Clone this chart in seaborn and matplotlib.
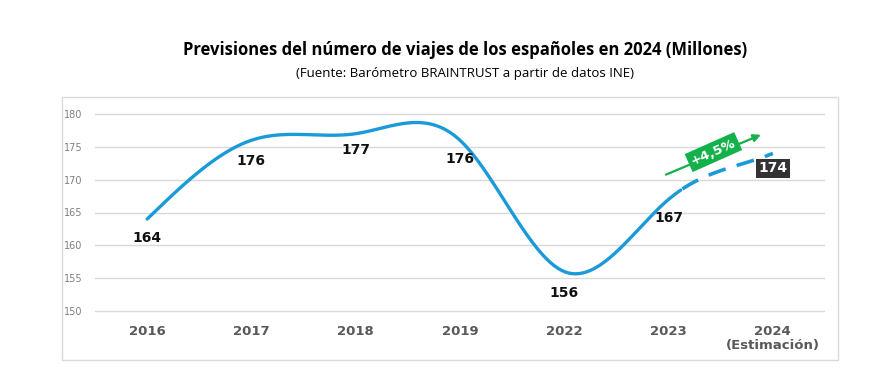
import numpy as np
import pandas as pd
import matplotlib
matplotlib.use("Agg")
import matplotlib.pyplot as plt
from matplotlib.patches import Rectangle
import seaborn as sns

years = ["2016", "2017", "2018", "2019", "2022", "2023", "2024\n(Estimación)"]
viajes = [164, 176, 177, 176, 156, 167, 174]
etiquetas = ["164", "176", "177", "176", "156", "167", "174"]
crecimiento = "+4,5%"
titulo = "Previsiones del número de viajes de los españoles en 2024 (Millones)"
fuente = "(Fuente: Barómetro BRAINTRUST a partir de datos INE)"

W, H = 883, 378


def spline(y, end_slope, n=60):
    # cubic spline on x = 0..len-1, natural at the left, clamped at the right
    y = np.asarray(y, float)
    m = len(y)
    A = np.zeros((m, m))
    b = np.zeros(m)
    A[0, 0] = 1
    for i in range(1, m - 1):
        A[i, i - 1], A[i, i], A[i, i + 1] = 1, 4, 1
        b[i] = 6 * (y[i + 1] - 2 * y[i] + y[i - 1])
    A[-1, -2], A[-1, -1] = 1, 2
    b[-1] = 6 * (end_slope - (y[-1] - y[-2]))
    M = np.linalg.solve(A, b)
    xs, ys = [], []
    for i in range(m - 1):
        t = np.linspace(0, 1, n, endpoint=False)
        yi = ((1 - t) * y[i] + t * y[i + 1]
              + ((1 - t) ** 3 - (1 - t)) * M[i] / 6
              + (t ** 3 - t) * M[i + 1] / 6)
        xs.append(i + t)
        ys.append(yi)
    xs.append([m - 1])
    ys.append([y[-1]])
    return np.concatenate(xs), np.concatenate(ys)


sns.set_theme(style="white")
plt.rcParams['font.family'] = ['DejaVu Sans']

fig = plt.figure(figsize=(W / 100, H / 100), dpi=100)
# y range 149.5..180.5 -> 6.567 px per unit
ax = fig.add_axes([95 / W, 1 - 314.3 / H, 730 / W, 203.6 / H])

xs, ys = spline(viajes, end_slope=6.5)
curva = pd.DataFrame({"x": xs, "y": ys})
corte = 5.12
color = "#1b9ad8"
sns.lineplot(data=curva[curva.x <= corte], x="x", y="y", ax=ax,
             color=color, lw=2.4, solid_capstyle="round")
sns.lineplot(data=curva[curva.x >= corte], x="x", y="y", ax=ax,
             color=color, lw=2.6, dashes=(5, 3.2))

ax.set_xlim(-0.5, 6.5)
ax.set_ylim(149.5, 180.5)
ax.set_yticks(range(150, 181, 5))
ax.set_xticks(range(len(years)))
ax.set_xticklabels(years, fontsize=9.5, fontweight="bold", color="#595959",
                   linespacing=1.1, va="top")
ax.tick_params(axis="x", pad=8, length=0)
ax.tick_params(axis="y", labelsize=7, labelcolor="#7f7f7f", pad=9, length=0)
ax.grid(axis="y", color="#d9d9d9", lw=1)
ax.set_xlabel("")
ax.set_ylabel("")
for s in ax.spines.values():
    s.set_visible(False)

# data labels
offsets = [-2.9, -3.2, -2.5, -2.8, -3.3, -2.9]
for i, (v, lab) in enumerate(zip(viajes[:-1], etiquetas[:-1])):
    ax.text(i + 0.0, v + offsets[i], lab, ha="center", va="center",
            fontsize=10, fontweight="bold", color="#111111")
ax.text(6.0, viajes[-1] - 2.3, etiquetas[-1], ha="center", va="center",
        fontsize=10, fontweight="bold", color="white",
        bbox=dict(boxstyle="square,pad=0.2", fc="#333333", ec="none"))

# growth arrow
verde = "#13b04b"
ax.annotate("", xy=(5.91, 177.0), xytext=(4.95, 170.6),
            arrowprops=dict(arrowstyle="-|>", color=verde, lw=1.6,
                            mutation_scale=11))
ax.text(5.43, 174.2, crecimiento, ha="center", va="center", rotation=24,
        fontsize=9.5, fontweight="bold", color="white",
        bbox=dict(boxstyle="square,pad=0.25", fc=verde, ec="none"))

# outer frame
fig.patches.append(Rectangle((62 / W, 1 - 360 / H), 776 / W, 263 / H,
                             transform=fig.transFigure, fill=False,
                             ec="#d9d9d9", lw=1))

fig.text(465 / W, 1 - 50 / H, titulo, ha="center", va="center",
         fontsize=12, fontweight="bold", family=["Open Sans", "DejaVu Sans"],
         color="black")
fig.text(465 / W, 1 - 73 / H, fuente, ha="center", va="center",
         fontsize=9.5, family=["Open Sans", "DejaVu Sans"], color="black")

fig.savefig("out.png", dpi=100, facecolor="white")
